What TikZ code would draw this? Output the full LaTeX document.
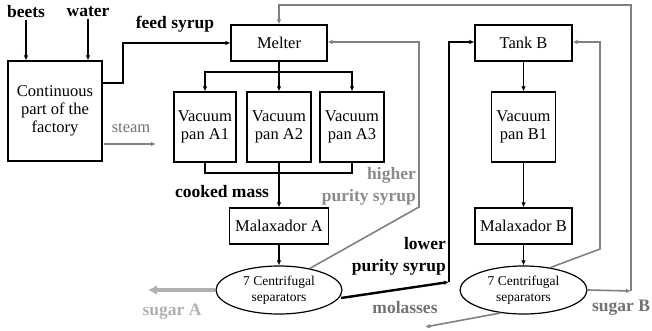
\documentclass[tikz,border=0pt]{standalone}
\usepackage{fontspec}
\setmainfont{LiberationSerif}[Extension=.ttf,UprightFont=*-Regular,BoldFont=*-Bold,ItalicFont=*-Italic,BoldItalicFont=*-BoldItalic]
\newfontfamily\tnr{LiberationSerif}[Extension=.ttf,UprightFont=*-Regular,BoldFont=*-Bold,ItalicFont=*-Italic,BoldItalicFont=*-BoldItalic]
\usetikzlibrary{arrows.meta,shapes.geometric,calc}
\definecolor{gline}{HTML}{808080}
\definecolor{gtext}{HTML}{8A8A8A}
\definecolor{lgray}{HTML}{B0B0B0}
\definecolor{dgtext}{HTML}{727272}
\begin{document}
\begin{tikzpicture}[x=1pt,y=-1pt,
  box/.style={draw,line width=1.2pt,rectangle,inner sep=0pt,align=center,font=\tnr\fontsize{16.5}{18}\selectfont},
  ell/.style={draw,line width=1.2pt,ellipse,inner sep=0pt,align=center,font=\tnr\fontsize{13.5}{16}\selectfont},
  blab/.style={font=\tnr\fontsize{17.5}{21}\selectfont\bfseries,inner sep=0pt},
  tip/.style={-{Latex[length=5pt,width=4.5pt]}},
  bk/.style={line width=1.4pt},
  bkthick/.style={line width=2.4pt},
  gr/.style={draw=gline,line width=1.6pt},
]
\useasboundingbox (0,0) rectangle (652,331);
% nodes
\node[box,minimum width=94,minimum height=100] (cont) at (55,111) {Continuous\\part of the\\factory};
\node[box,minimum width=96,minimum height=36] (melter) at (279,43) {Melter};
\node[box,minimum width=62,minimum height=70] (a1) at (205,127) {Vacuum\\pan A1};
\node[box,minimum width=64,minimum height=70] (a2) at (279,127) {Vacuum\\pan A2};
\node[box,minimum width=64,minimum height=70] (a3) at (352,127) {Vacuum\\pan A3};
\node[box,minimum width=99,minimum height=36] (mala) at (279,226) {Malaxador A};
\node[ell,minimum width=126,minimum height=48] (ella) at (279,290) {7 Centrifugal\\separators};
\node[box,minimum width=97,minimum height=36] (tankb) at (523.5,43) {Tank B};
\node[box,minimum width=64,minimum height=70] (b1) at (523.5,127) {Vacuum\\pan B1};
\node[box,minimum width=97,minimum height=36] (malb) at (523.5,226) {Malaxador B};
\node[ell,minimum width=127,minimum height=48] (ellb) at (523.5,290) {7 Centrifugal\\separators};
% labels
\node[blab] (beets) at (26,12) {beets};
\node[blab] (water) at (88,12) {water};
\node[blab] (feed) at (175,24) {feed syrup};
\node[font=\tnr\fontsize{16.5}{18}\selectfont,inner sep=0pt,text=dgtext] (steam) at (131,128) {steam};
\node[blab] (cooked) at (222,192) {cooked mass};
\node[blab,text=gtext,align=right,anchor=east,font=\tnr\fontsize{17.5}{22}\selectfont\bfseries] (higher) at (416,186) {higher\\purity syrup};
\node[blab,align=right,anchor=east,font=\tnr\fontsize{17.5}{22}\selectfont\bfseries] (lower) at (446,256) {lower\\purity syrup};
\node[blab,text=lgray] (sugA) at (172,312) {sugar A};
\node[blab,text=dgtext] (mol) at (405,308) {molasses};
\node[blab,text=dgtext] (sugB) at (621,308) {sugar B};
% coordinates
\coordinate (busT) at (279,72);
\coordinate (busB) at (279,173);
\coordinate (fs1) at (102,83);
\coordinate (fs2) at (123,83);
\coordinate (fs3) at (123,43);
\coordinate (st0) at (104,144);
\coordinate (st1) at (156,144);
\coordinate (hp1) at (419,207);
\coordinate (hp2) at (419,42);
\coordinate (lp0) at (341,298);
\coordinate (lp1) at (449,282);
\coordinate (lp2) at (449,42);
\coordinate (gb1) at (600,249);
\coordinate (gb2) at (600,42);
\coordinate (sb1) at (631,291);
\coordinate (sb2) at (631,5);
\coordinate (sb3) at (279,5);
\coordinate (mo1) at (425,327);
\coordinate (sa1) at (148,290);
% connectors
\draw[bk,tip] (beets.south) ++(0,2) -- (beets |- cont.north);
\draw[bk,tip] (water.south) ++(0,2) -- (water |- cont.north);
\draw[bkthick,tip] (fs1) -- (fs2) -- (fs3) -- (melter.west);
\draw[gr,tip,line width=1.2pt] (st0) -- (st1);
\draw[bkthick] (melter.south) -- (busT);
\draw[bkthick,tip] (busT) -| (a1.north);
\draw[bkthick,tip] (busT) -| (a3.north);
\draw[bkthick,tip] (busT) -- (a2.north);
\draw[bkthick] (a1.south) |- (busB);
\draw[bkthick] (a3.south) |- (busB);
\draw[bkthick] (a2.south) -- (busB);
\draw[bk,tip] (busB) -- (mala.north);
\draw[bk,tip] (mala.south) -- (ella.north);
\draw[draw=lgray,line width=4pt,-{Latex[length=9pt,width=10pt]}] (ella.west) -- (sa1);
\draw[gr,tip] (ella.35) -- (hp1) -- (hp2) -- (melter.east |- hp2);
\draw[bkthick,tip] (lp0) -- (lp1);
\draw[bkthick,tip] (lp1) -- (lp2) -- (tankb.west |- lp2);
\draw[bk,tip] (tankb.south) -- (b1.north);
\draw[bk,tip] (b1.south) -- (malb.north);
\draw[bk,tip] (malb.south) -- (ellb.north);
\draw[gr,tip] (ellb.40) -- (gb1) -- (gb2) -- (tankb.east |- gb2);
\draw[gr,tip] (ellb.east) -- (sb1);
\draw[gr,tip] (sb1) -- (sb2) -- (sb3) -- (melter.north);
\draw[gr,tip] (ellb.225) -- (mo1);
\end{tikzpicture}
\end{document}
